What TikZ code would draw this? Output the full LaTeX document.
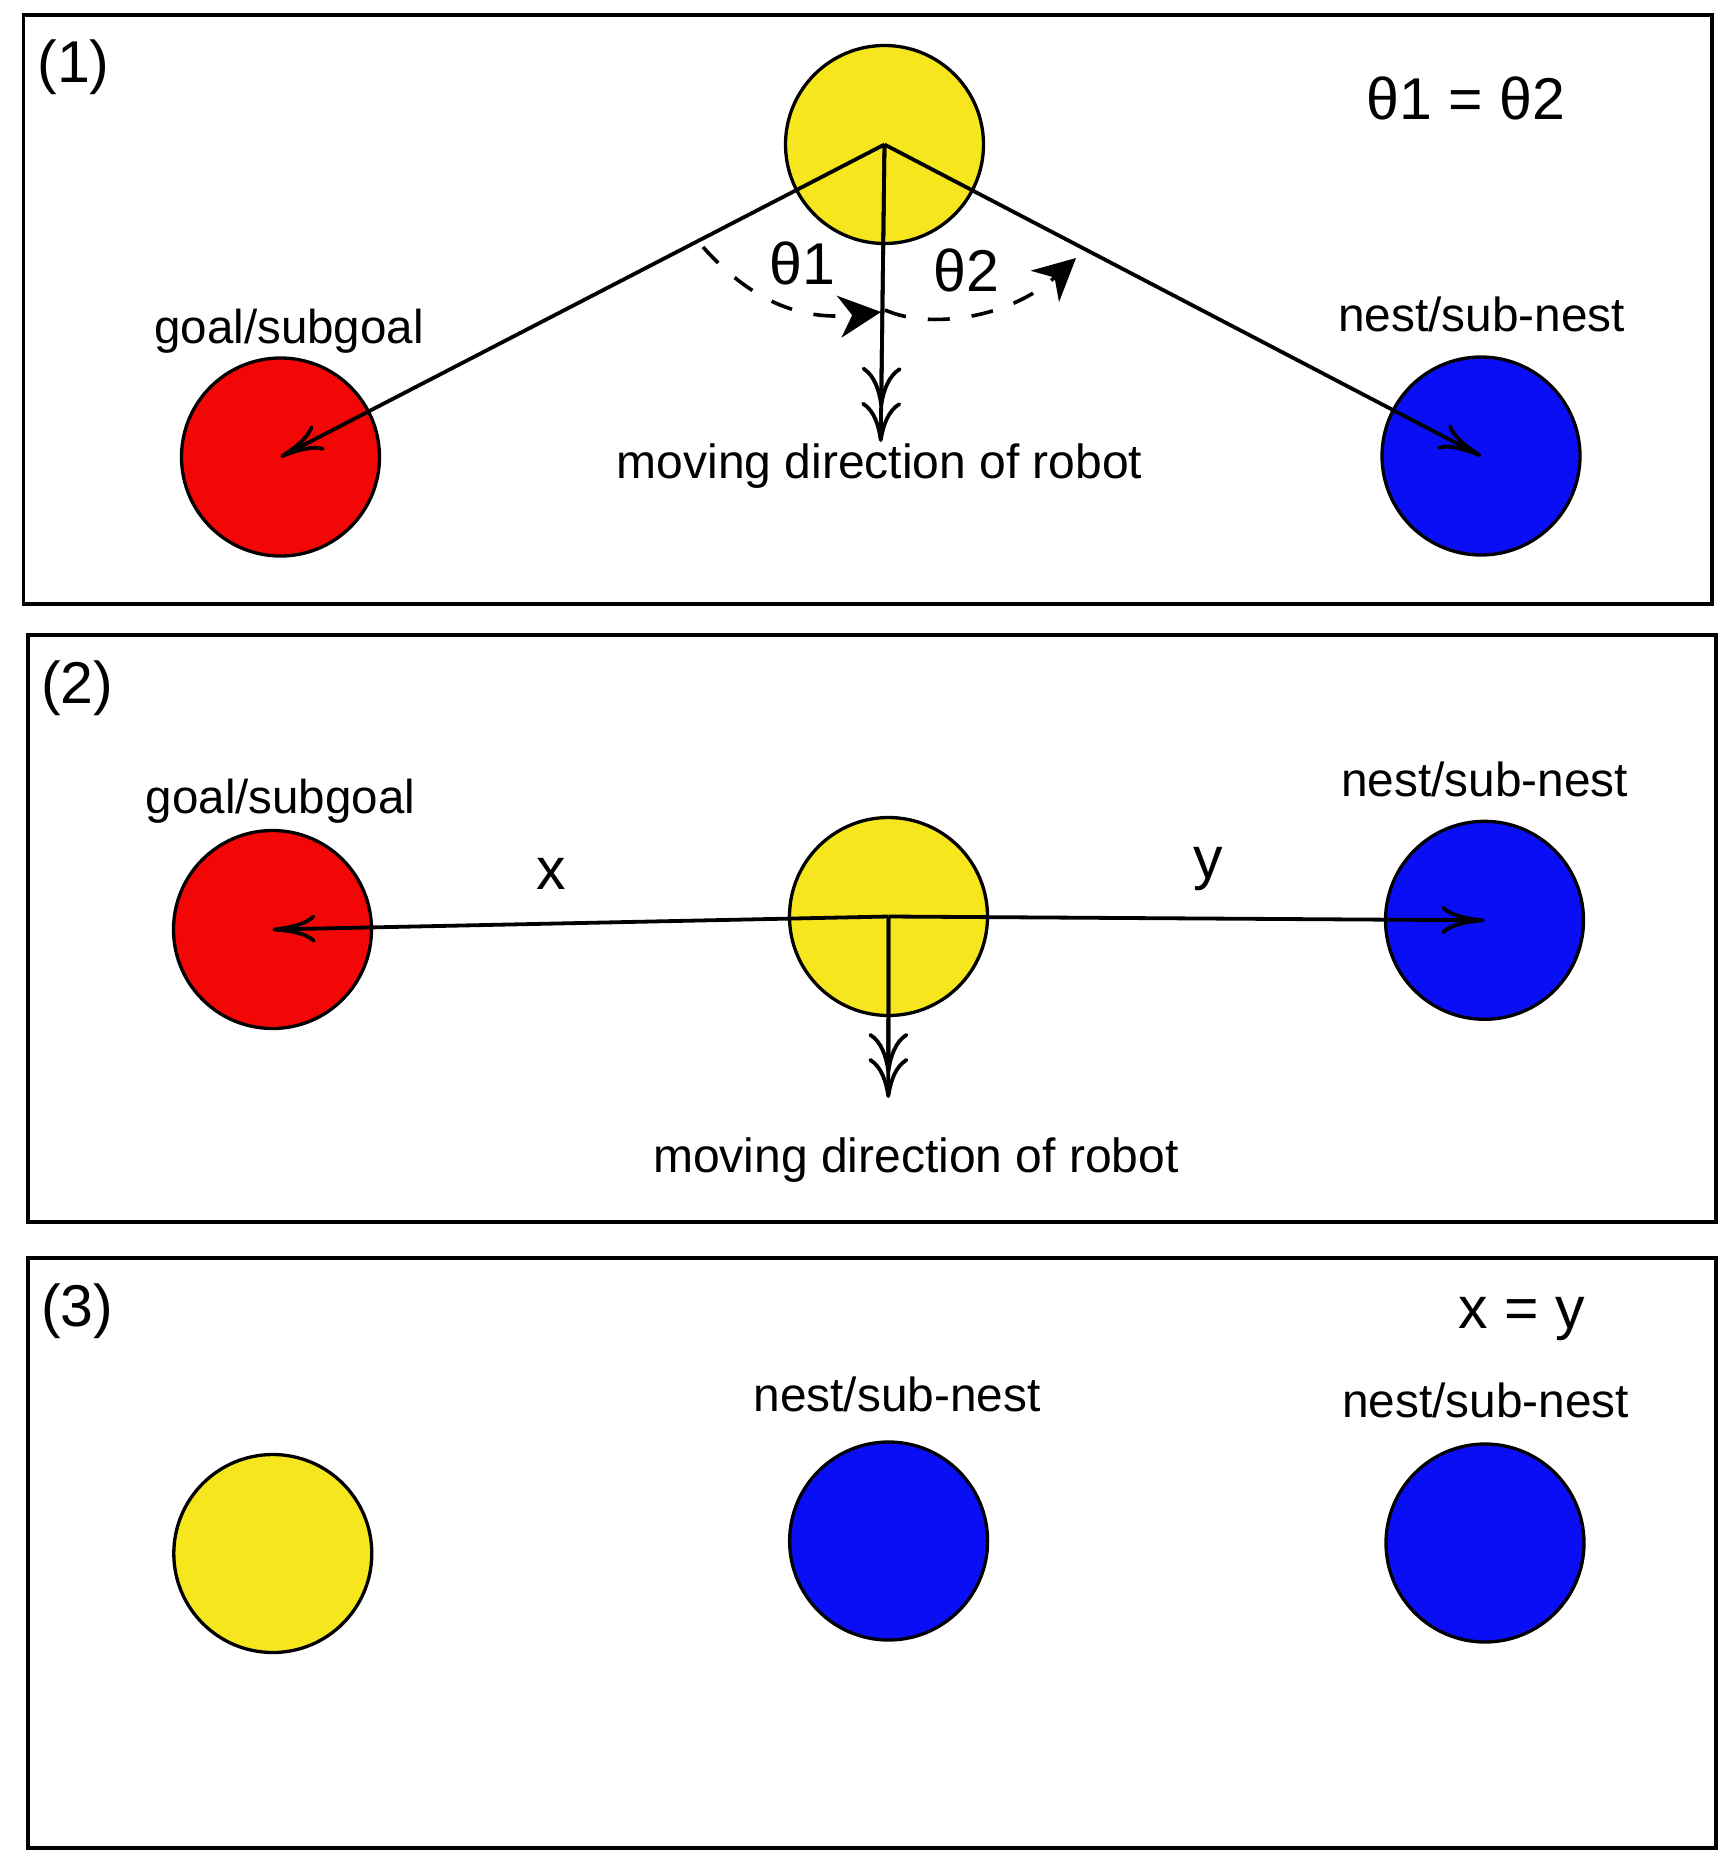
\documentclass[tikz,border=0pt]{standalone}
\usepackage{fontspec}
\setmainfont{Liberation Sans}
\usetikzlibrary{arrows.meta}
\definecolor{ylw}{RGB}{246,230,30}
\definecolor{rd}{RGB}{242,6,6}
\definecolor{bl}{RGB}{10,14,245}
\begin{document}
\begin{tikzpicture}[x=1pt,y=-1pt,
  panel/.style={draw=black,line width=3.6pt},
  ball/.style={circle,draw=black,line width=3.3pt,minimum size=198pt,inner sep=0pt},
  conn/.style={line width=3.8pt},
  openhead/.style={-{Computer Modern Rightarrow[length=43pt,width=28pt]}},
  dblhead/.style={-{Computer Modern Rightarrow[length=40pt,width=40pt]}},
  anglearc/.style={line width=3.6pt,dash pattern=on 22pt off 22pt,-{Stealth[length=42pt,width=42pt,inset=13pt]}},
  big/.style={anchor=base,inner sep=0pt,font=\fontsize{59}{68}\selectfont},
  goallbl/.style={anchor=base,inner sep=0pt,font=\fontsize{47.5}{56}\selectfont},
  nestlbl/.style={anchor=base,inner sep=0pt,font=\fontsize{47.8}{56}\selectfont},
  movelbl/.style={anchor=base,inner sep=0pt,font=\fontsize{48}{56}\selectfont}]
\useasboundingbox (0,0) rectangle (1733,1867);
\fill[white] (0,0) rectangle (1733,1867);
% panels
\draw[panel] (23.5,15) rectangle (1712,604);
\draw[panel] (28,635) rectangle (1716,1222);
\draw[panel] (28,1258) rectangle (1716,1848);
% ---------- panel 1
\node[big] (l1) at (73.5,83) {(1)};
\node[big] (eq1) at (1466,119.3) {θ1 = θ2};
\node[ball,fill=ylw] (y1) at (884.5,144.5) {};
\node[ball,fill=rd] (r1) at (280.5,457) {};
\node[ball,fill=bl] (b1) at (1481,456) {};
\node[goallbl] (g1) at (289,343.3) {goal/subgoal};
\node[nestlbl] (n1) at (1481.7,331.7) {nest/sub-nest};
\node[movelbl] (m1) at (879.6,478) {moving direction of robot};
\node[big] (t1) at (802.5,285) {θ1};
\node[big] (t2) at (966,291.7) {θ2};
\coordinate (d1) at (880.7,442);
\draw[conn,openhead] (y1.center) -- (r1.center);
\draw[conn,openhead] (y1.center) -- (b1.center);
\draw[conn,dblhead] (y1.center) -- (d1);
\draw[conn,dblhead,shorten >=35pt] (y1.center) -- (d1);
\coordinate (a1s) at (703,247);
\coordinate (a1e) at (881,312);
\coordinate (a2s) at (885,310);
\coordinate (a2e) at (1076,258);
\draw[anglearc] (a1s) .. controls (750,300) and (800,321) .. (a1e);
\draw[anglearc] (a2s) .. controls (930,330) and (1010,318) .. (a2e);
% ---------- panel 2
\node[big] (l2) at (77.4,703) {(2)};
\node[ball,fill=ylw] (y2) at (888.5,916.5) {};
\node[ball,fill=rd] (r2) at (272.5,929.5) {};
\node[ball,fill=bl] (b2) at (1484.5,920.3) {};
\node[goallbl] (g2) at (280.5,813) {goal/subgoal};
\node[nestlbl] (n2) at (1484.7,796) {nest/sub-nest};
\node[big] (x2) at (551.5,889) {x};
\node[big] (yy2) at (1208,878) {y};
\node[movelbl] (m2) at (916,1172.4) {moving direction of robot};
\coordinate (d2) at (888.3,1098);
\draw[conn,openhead] (y2.center) -- (r2.center);
\draw[conn,openhead] (y2.center) -- (b2.center);
\draw[conn,dblhead] (y2.center) -- (d2);
\draw[conn,dblhead,shorten >=25pt] (y2.center) -- (d2);
% ---------- panel 3
\node[big] (l3) at (77.4,1326) {(3)};
\node[big] (eq3) at (1521.7,1328) {x = y};
\node[ball,fill=ylw] (y3) at (272.8,1553.5) {};
\node[ball,fill=bl] (bm3) at (888.6,1541) {};
\node[ball,fill=bl] (br3) at (1485,1543) {};
\node[nestlbl] (n3a) at (897,1411) {nest/sub-nest};
\node[nestlbl] (n3b) at (1485.5,1417.8) {nest/sub-nest};
\end{tikzpicture}
\end{document}
